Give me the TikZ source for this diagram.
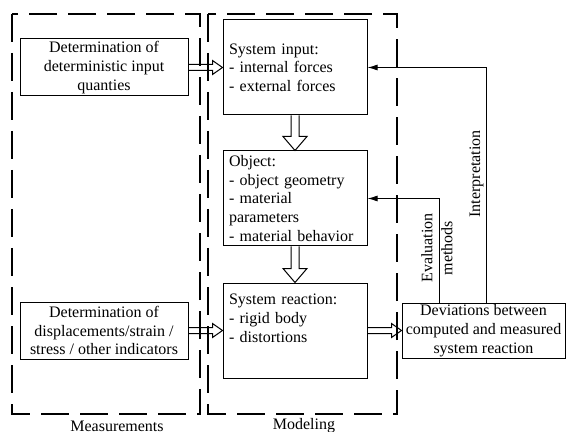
\documentclass[tikz,border=0pt]{standalone}
\usepackage{fontspec}
\setmainfont{Liberation Serif}
\usetikzlibrary{calc,arrows.meta}
\begin{document}
\begin{tikzpicture}[x=0.5pt,y=-0.5pt,
  every node/.style={font=\fontsize{8}{9.35}\selectfont},
  cbox/.style={draw,line width=0.5pt,align=center,inner sep=0pt,minimum width=84pt,minimum height=28.5pt},
  lbox/.style={draw,line width=0.5pt,align=left,inner xsep=3pt,inner ysep=0pt,text width=66pt,minimum width=72pt,minimum height=47.5pt},
  dbox/.style={draw,line width=0.5pt,align=center,inner sep=0pt,minimum width=81.5pt,minimum height=27.5pt},
  region/.style={line width=0.9pt,dash pattern=on 14pt off 5.5pt},
  hollow/.style={line width=0.5pt,line join=miter},
  fb/.style={line width=0.5pt,-{Latex[length=5pt,width=3pt]}}
]
\useasboundingbox (0,0) rectangle (566,432);
\draw[region] (12,14) rectangle (200,414);
\draw[region] (208,14) rectangle (397,414);
\node (measlab) at (117,426) {Measurements};
\node (modlab) at (304,426) {Modeling};

\node[cbox] (box1) at (104,67.5) {Determination of\\deterministic input\\quanties};
\node[cbox] (box2) at (104,330.5) {Determination of\\displacements/strain /\\stress / other indicators};
\node[lbox] (sysin) at (295,67.5) {System input:\\- internal forces\\- external forces};
\node[lbox] (object) at (295,198.5) {Object:\\- object geometry\\- material\\parameters\\- material behavior};
\node[lbox] (sysreac) at (295,330.5) {System reaction:\\- rigid body\\- distortions\\\strut};
\node[dbox] (dev) at (483.5,330.5) {Deviations between\\computed and measured\\system reaction};

% horizontal hollow arrows
\draw[hollow] (box1.east) ++(0,-3) -- ($(sysin.west)+(-10,-3)$) -- ++(0,-4) -- (sysin.west) -- ++(-10,7) -- ++(0,-4) -- ($(box1.east)+(0,3)$);
\draw[hollow] (box2.east) ++(0,-3) -- ($(sysreac.west)+(-10,-3)$) -- ++(0,-4) -- (sysreac.west) -- ++(-10,7) -- ++(0,-4) -- ($(box2.east)+(0,3)$);
\draw[hollow] (sysreac.east) ++(0,-3) -- ($(dev.west)+(-10,-3)$) -- ++(0,-4) -- (dev.west) -- ++(-10,7) -- ++(0,-4) -- ($(sysreac.east)+(0,3)$);

% vertical hollow arrows
\draw[hollow] (sysin.south) ++(-4,0) -- ($(object.north)+(-4,-14)$) -- ++(-8,0) -- (object.north) -- ++(12,-14) -- ++(-8,0) -- ($(sysin.south)+(4,0)$);
\draw[hollow] (object.south) ++(-4,0) -- ($(sysreac.north)+(-4,-14)$) -- ++(-8,0) -- (sysreac.north) -- ++(12,-14) -- ++(-8,0) -- ($(object.south)+(4,0)$);

% feedback lines
\coordinate (ia) at (486,0);
\coordinate (ea) at (439,0);
\draw[fb] (dev.north -| ia) |- (sysin.east);
\draw[fb] (dev.north -| ea) |- (object.east);
\node[rotate=90,anchor=south,inner sep=1pt] (interp) at (486,174) {Interpretation};
\node[rotate=90,align=center,inner sep=0pt,font=\fontsize{8}{10}\selectfont] (evalm) at (437,248) {Evaluation\\methods};
\end{tikzpicture}
\end{document}
